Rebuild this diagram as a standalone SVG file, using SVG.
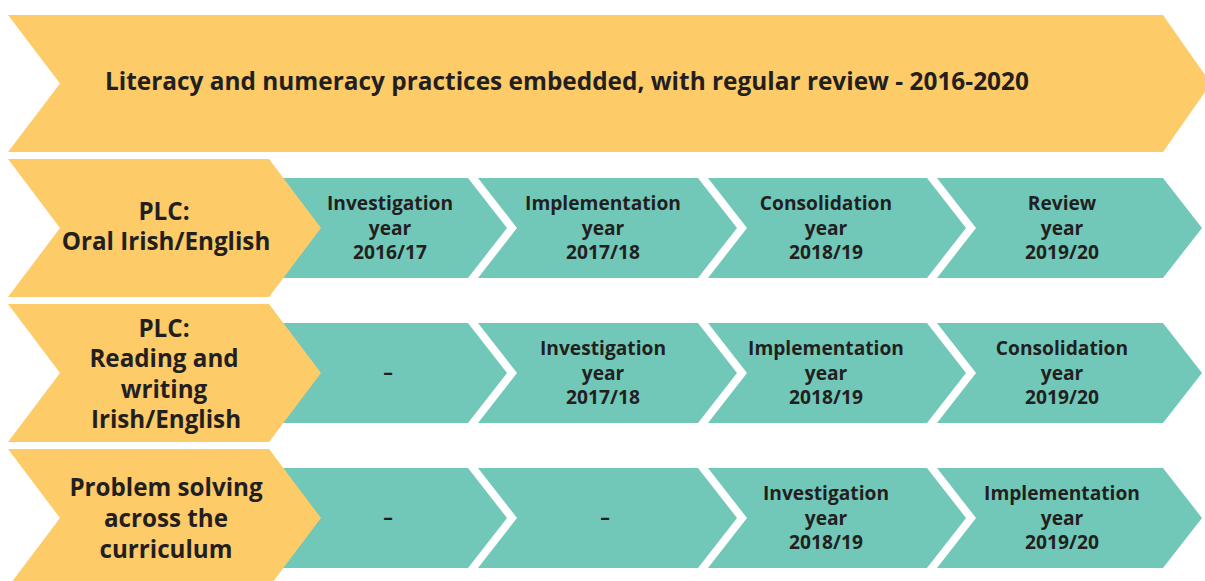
<svg xmlns="http://www.w3.org/2000/svg" width="1205" height="581" viewBox="0 0 1205 581">
<style>
.y{fill:#FDCB67}
.t{fill:#71C8B8}
text{font-family:"Open Sans","Noto Sans",sans-serif;font-weight:bold;fill:#231F20;text-anchor:middle}
.big{font-size:24.4px}
.lab{font-size:24.2px}
.s{font-size:19.2px}
</style>
<rect width="1205" height="581" fill="#FFFFFF"/>
<g id="banner">
<polygon class="y" points="8,15 1163,15 1211,83.5 1163,152 8,152 60,83.5"/>
<text class="big" x="105" y="90" style="text-anchor:start">Literacy and numeracy practices embedded, with regular review - 2016-2020</text>
</g>
<g id="connectors"></g>
<!-- Row 1 -->
<g id="r1c1"><polygon class="t" points="270,178 468,178 507,228 468,278 270,278"/>
<text class="s" x="390" y="210">Investigation</text><text class="s" x="390" y="234.5">year</text><text class="s" x="390" y="259">2016/17</text></g>
<g id="r1c2"><polygon class="t" points="478,178 698,178 737,228 698,278 478,278 517,228"/>
<text class="s" x="603" y="210">Implementation</text><text class="s" x="603" y="234.5">year</text><text class="s" x="603" y="259">2017/18</text></g>
<g id="r1c3"><polygon class="t" points="708,178 927,178 966,228 927,278 708,278 747,228"/>
<text class="s" x="826" y="210">Consolidation</text><text class="s" x="826" y="234.5">year</text><text class="s" x="826" y="259">2018/19</text></g>
<g id="r1c4"><polygon class="t" points="937,178 1163,178 1202,228 1163,278 937,278 976,228"/>
<text class="s" x="1062" y="210">Review</text><text class="s" x="1062" y="234.5">year</text><text class="s" x="1062" y="259">2019/20</text></g>
<g id="r1head"><polygon class="y" points="8,159 269,159 321,228 269,297 8,297 60,228"/>
<text class="lab" x="164" y="220">PLC:</text><text class="lab" x="166" y="250">Oral Irish/English</text></g>
<!-- Row 2 -->
<g id="r2c1"><polygon class="t" points="270,323 468,323 507,373 468,423 270,423"/>
<text class="s" x="388" y="379">–</text></g>
<g id="r2c2"><polygon class="t" points="478,323 698,323 737,373 698,423 478,423 517,373"/>
<text class="s" x="603" y="355">Investigation</text><text class="s" x="603" y="379.5">year</text><text class="s" x="603" y="404">2017/18</text></g>
<g id="r2c3"><polygon class="t" points="708,323 927,323 966,373 927,423 708,423 747,373"/>
<text class="s" x="826" y="355">Implementation</text><text class="s" x="826" y="379.5">year</text><text class="s" x="826" y="404">2018/19</text></g>
<g id="r2c4"><polygon class="t" points="937,323 1163,323 1202,373 1163,423 937,423 976,373"/>
<text class="s" x="1062" y="355">Consolidation</text><text class="s" x="1062" y="379.5">year</text><text class="s" x="1062" y="404">2019/20</text></g>
<g id="r2head"><polygon class="y" points="8,304 269,304 321,373 269,442 8,442 60,373"/>
<text class="lab" x="164" y="337">PLC:</text><text class="lab" x="164" y="367">Reading and</text><text class="lab" x="164" y="397.5">writing</text><text class="lab" x="166" y="428">Irish/English</text></g>
<!-- Row 3 -->
<g id="r3c1"><polygon class="t" points="270,468 468,468 507,518 468,568 270,568"/>
<text class="s" x="388" y="524">–</text></g>
<g id="r3c2"><polygon class="t" points="478,468 698,468 737,518 698,568 478,568 517,518"/>
<text class="s" x="605" y="524">–</text></g>
<g id="r3c3"><polygon class="t" points="708,468 927,468 966,518 927,568 708,568 747,518"/>
<text class="s" x="826" y="500">Investigation</text><text class="s" x="826" y="524.5">year</text><text class="s" x="826" y="549">2018/19</text></g>
<g id="r3c4"><polygon class="t" points="937,468 1163,468 1202,518 1163,568 937,568 976,518"/>
<text class="s" x="1062" y="500">Implementation</text><text class="s" x="1062" y="524.5">year</text><text class="s" x="1062" y="549">2019/20</text></g>
<g id="r3head"><polygon class="y" points="8,449 269,449 321,518 269,587 8,587 60,518"/>
<text class="lab" x="166" y="496">Problem solving</text><text class="lab" x="166" y="527">across the</text><text class="lab" x="166" y="558">curriculum</text></g>
</svg>
